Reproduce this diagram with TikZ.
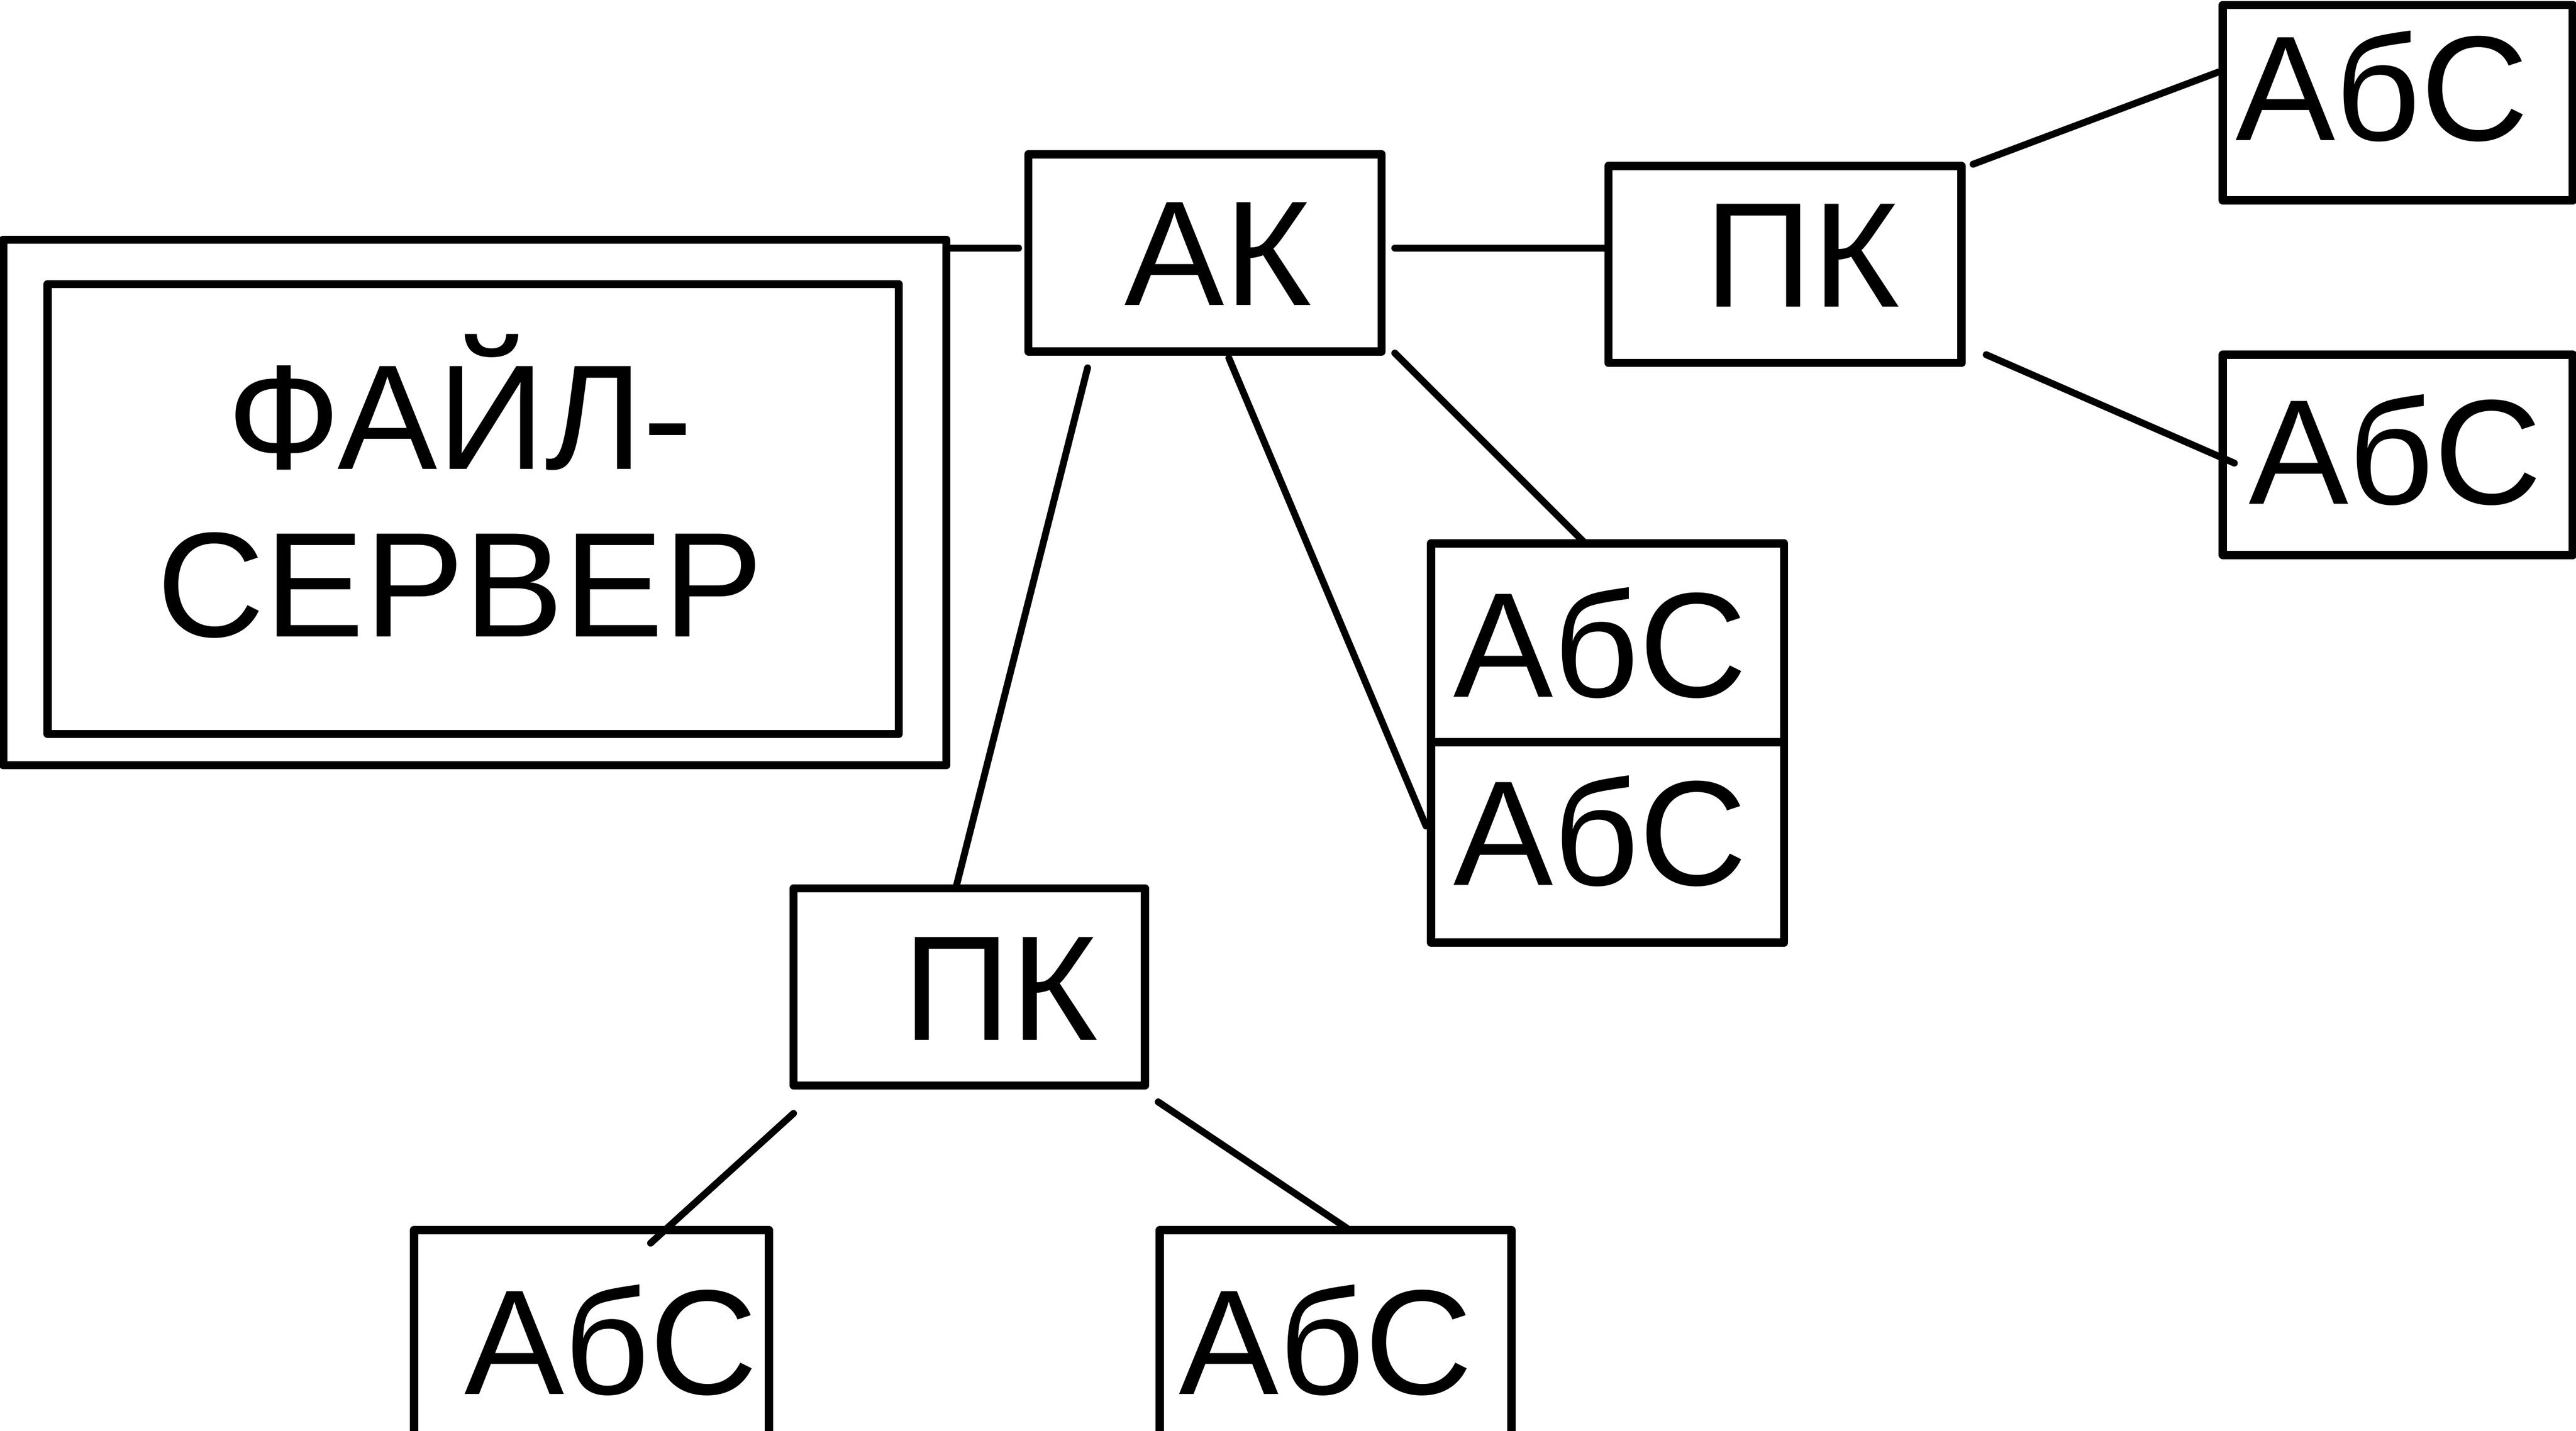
\documentclass[tikz,border=0pt]{standalone}
\usepackage{fontspec}
\setmainfont{Liberation Sans}
\begin{document}
\begin{tikzpicture}[x=1pt,y=1pt,
  box/.style={draw=black,line width=5pt,line join=round,rectangle,inner sep=0pt,minimum width=215pt,minimum height=121pt},
  lbl/.style={inner sep=0pt,text height=65pt,text depth=0pt,font=\fontsize{91}{102}\selectfont},
  conn/.style={draw=black,line width=4.2pt,line cap=round}]
\clip (0,0) rectangle (1568,-871.4);
\useasboundingbox (0,0) rectangle (1568,-871.4);
% file server
\node[box,minimum width=574pt,minimum height=320pt] (fso) at (289,-306) {};
\node[box,minimum width=518pt,minimum height=274pt] (fsi) at (288,-310) {};
\node[inner sep=0pt,align=center,font=\fontsize{91}{102}\selectfont] (fst) at (280,-296) {ФАЙЛ-\\СЕРВЕР};
% AK
\node[box,minimum height=120pt] (ak) at (733.5,-154) {};
\node[lbl] (akt) at (741.5,-153.5) {АК};
% PK top
\node[box,minimum height=120pt] (pk1) at (1086.5,-161) {};
\node[lbl] (pk1t) at (1097,-154.5) {ПК};
% right AbC
\node[box,minimum width=213pt,minimum height=119pt] (r1) at (1459.5,-62.5) {};
\node[lbl] (r1t) at (1450,-53) {АбС};
\node[box,minimum width=213pt,minimum height=122pt] (r2) at (1459.5,-277) {};
\node[lbl] (r2t) at (1458,-274.5) {АбС};
% stacked AbC
\node[box] (s1) at (978.5,-391.5) {};
\node[lbl] (s1t) at (974,-392) {АбС};
\node[box,minimum height=122pt] (s2) at (978.5,-513) {};
\node[lbl] (s2t) at (974,-506.5) {АбС};
% PK bottom
\node[box,minimum width=214pt,minimum height=120pt] (pk2) at (590,-601) {};
\node[lbl] (pk2t) at (609,-601) {ПК};
% bottom AbC
\node[box,minimum width=216pt,minimum height=126pt] (b1) at (360,-812) {};
\node[lbl] (b1t) at (372,-816.5) {АбС};
\node[box,minimum width=214pt,minimum height=126pt] (b2) at (813,-812) {};
\node[lbl] (b2t) at (807,-816.5) {АбС};
% connector ends
\coordinate (c1a) at (578,-151); \coordinate (c1b) at (620,-151);
\coordinate (c2a) at (849,-151);
\coordinate (c3a) at (662,-224); \coordinate (c3b) at (582,-540);
\coordinate (c4a) at (748,-218); \coordinate (c4b) at (868,-503);
\coordinate (c5a) at (849,-215); \coordinate (c5b) at (965,-331);
\coordinate (c6a) at (1201,-100); \coordinate (c6b) at (1350,-44);
\coordinate (c7a) at (1209,-216); \coordinate (c7b) at (1360,-282);
\coordinate (c8a) at (483,-678); \coordinate (c8b) at (396,-757);
\coordinate (c9a) at (705,-671); \coordinate (c9b) at (820,-748);
\draw[conn] (c1a) -- (c1b);
\draw[conn] (c2a) -- (pk1.west |- c2a);
\draw[conn] (c3a) -- (c3b);
\draw[conn] (c4a) -- (c4b);
\draw[conn] (c5a) -- (c5b);
\draw[conn] (c6a) -- (c6b);
\draw[conn] (c7a) -- (c7b);
\draw[conn] (c8a) -- (c8b);
\draw[conn] (c9a) -- (c9b);
\end{tikzpicture}
\end{document}
